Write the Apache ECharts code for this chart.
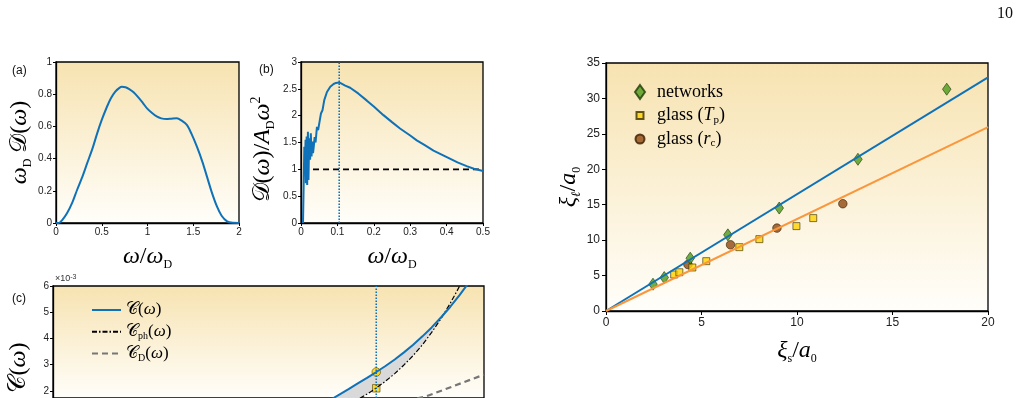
<!DOCTYPE html>
<html>
<head>
<meta charset="utf-8">
<script src="https://cdn.jsdelivr.net/npm/echarts@6/dist/echarts.min.js"></script>
<style>
  html, body { margin: 0; padding: 0; background: #fff; }
  #chart { width: 1023px; height: 398px; }
</style>
</head>
<body>
<div id="chart"></div>
<script>
/* (a) 态密度 */
var aOmega = [0, 0.03, 0.07, 0.12, 0.18, 0.23, 0.29, 0.34, 0.40, 0.45, 0.50, 0.557, 0.60, 0.648, 0.69,
  0.72, 0.76, 0.80, 0.848, 0.90, 0.95, 0.995, 1.05, 1.10, 1.15, 1.21, 1.26, 1.32, 1.37, 1.43,
  1.48, 1.54, 1.60, 1.65, 1.70, 1.76, 1.81, 1.87, 1.93, 2.0];
var aDos = [0, 0, 0.02, 0.06, 0.13, 0.205, 0.29, 0.37, 0.465, 0.557, 0.64, 0.722, 0.775, 0.816, 0.838,
  0.846, 0.843, 0.832, 0.812, 0.78, 0.745, 0.712, 0.683, 0.662, 0.65, 0.646, 0.648, 0.65, 0.637, 0.609,
  0.555, 0.474, 0.38, 0.288, 0.195, 0.101, 0.045, 0.01, 0.001, 0];

/* (b) 约化态密度 D/A_D w^2 */
var bOmega = [0.0055, 0.0091, 0.0105, 0.0125, 0.0135, 0.0155, 0.017, 0.019, 0.0205, 0.0225, 0.025,
  0.027, 0.029, 0.031, 0.033, 0.035, 0.0375, 0.040, 0.0438, 0.047, 0.051, 0.0548, 0.059, 0.0639,
  0.0713, 0.0804, 0.0895, 0.0960, 0.1004, 0.105, 0.1096, 0.1215, 0.135, 0.158, 0.181, 0.2, 0.2265,
  0.25, 0.272, 0.3, 0.318, 0.34, 0.364, 0.385, 0.409, 0.43, 0.455, 0.475, 0.5];
var bReduced = [0, 1.42, 0.93, 1.55, 0.74, 1.61, 0.71, 1.70, 0.80, 1.58, 1.18, 1.67, 1.24, 1.52, 1.30,
  1.42, 1.60, 1.50, 1.79, 1.73, 1.89, 2.04, 2.10, 2.29, 2.44, 2.54, 2.59, 2.61, 2.61, 2.62, 2.61,
  2.56, 2.52, 2.41, 2.28, 2.17, 2.01, 1.88, 1.76, 1.63, 1.54, 1.45, 1.35, 1.28, 1.20, 1.13, 1.06,
  1.01, 0.97];
var bDebyeX = [0.033, 0.5];
var bDebyeY = [1, 1];
var peakOmega = 0.105;

/* (c) C(w), C_ph(w), C_D(w), 单位 1e-3(下半部分在画面外) */
var cOmega = [0.084, 0.087, 0.090, 0.093, 0.096, 0.099, 0.102, 0.105, 0.108, 0.111, 0.114, 0.117,
  0.120, 0.123, 0.126, 0.129, 0.132, 0.135, 0.138];
var cTotal = [1.30, 1.47, 1.65, 1.86, 2.07, 2.29, 2.50, 2.72, 2.95, 3.20, 3.47, 3.76, 4.08, 4.42,
  4.80, 5.20, 5.64, 6.12, 6.65];
var cPhonon = [0.94, 1.05, 1.18, 1.33, 1.49, 1.67, 1.88, 2.11, 2.37, 2.66, 2.99, 3.35, 3.76, 4.23,
  4.75, 5.33, 5.98, 6.72, 7.54];
var cDebyeOmega = [0.112, 0.1214, 0.13, 0.14];
var cDebye = [1.54, 1.80, 2.18, 2.62];
var cCircle = 2.72;
var cSquare = 2.10;
var cTicks = [2, 3, 4, 5, 6];

/* 右图 xi_l vs xi_s */
var netXs = [2.46, 3.05, 4.41, 6.38, 9.07, 13.19, 17.84];
var netXl = [3.78, 4.72, 7.45, 10.75, 14.53, 21.41, 31.3];
var tpXs = [3.57, 3.84, 4.52, 5.25, 6.98, 8.03, 9.97, 10.85];
var tpXl = [5.15, 5.47, 6.14, 7.03, 9.01, 10.14, 11.98, 13.11];
var rcXs = [4.29, 6.52, 8.95, 12.40];
var rcXl = [6.56, 9.34, 11.70, 15.14];
var fitXs = [0, 20];
var fitNet = [0, 32.96];
var fitGlass = [0, 25.94];

var BLUE = '#0f72b8', ORANGE = '#fa963c', GREEN = '#4c9a1a', BROWN = '#8e4810', YELLOW = '#ffd200';
var SERIF = 'Liberation Serif', SANS = 'Liberation Sans';

function pairs(xs, ys) { return xs.map(function (x, i) { return [x, ys[i]]; }); }
function bg() {
  return new echarts.graphic.LinearGradient(0, 0, 0, 1, [
    { offset: 0, color: '#f7e3b1' }, { offset: 1, color: '#fffefa' }]);
}

var math = {
  i: { fontFamily: SERIF, fontStyle: 'italic', fontSize: 24, lineHeight: 28, color: '#000' },
  n: { fontFamily: SERIF, fontSize: 24, lineHeight: 28, color: '#000' },
  c: { fontFamily: SERIF, fontSize: 24, lineHeight: 28, color: '#000' },
  sub: { fontFamily: SERIF, fontSize: 12, lineHeight: 12, verticalAlign: 'bottom', color: '#000' },
  isub: { fontFamily: SERIF, fontStyle: 'italic', fontSize: 13, lineHeight: 12, verticalAlign: 'bottom', color: '#000' },
  sup: { fontFamily: SERIF, fontSize: 14, lineHeight: 14, verticalAlign: 'top', color: '#000' }
};

function axis(grid, min, max, interval, fs, extra) {
  var o = {
    type: 'value', gridIndex: grid, min: min, max: max, interval: interval,
    axisLine: { show: true, onZero: false, lineStyle: { color: '#000', width: 1.3 } },
    axisTick: { show: true, length: fs > 11 ? 4 : 3, lineStyle: { color: '#000', width: 1 } },
    axisLabel: { fontFamily: SANS, fontSize: fs, color: '#222', margin: fs > 11 ? 6 : 4 },
    splitLine: { show: false },
    nameLocation: 'middle',
    nameTextStyle: { rich: math }
  };
  for (var k in extra) o[k] = extra[k];
  return o;
}

var legendText = {
  C: '{c|𝒞}{n|(}{i|ω}{n|)}',
  Cph: '{c|𝒞}{s|ph}{n|(}{i|ω}{n|)}',
  CD: '{c|𝒞}{s|D}{n|(}{i|ω}{n|)}',
  networks: '{n|networks}',
  glassT: '{n|glass (}{i|T}{s|p}{n|)}',
  glassR: '{n|glass (}{i|r}{s|c}{n|)}'
};
var legRichC = {
  i: { fontFamily: SERIF, fontStyle: 'italic', fontSize: 17, lineHeight: 20, color: '#000' },
  n: { fontFamily: SERIF, fontSize: 17, lineHeight: 20, color: '#000' },
  c: { fontFamily: SERIF, fontSize: 17, lineHeight: 20, color: '#000' },
  s: { fontFamily: SERIF, fontSize: 10, lineHeight: 10, verticalAlign: 'bottom', color: '#000' }
};
var legRichD = {
  i: { fontFamily: SERIF, fontStyle: 'italic', fontSize: 18, lineHeight: 20, color: '#000' },
  n: { fontFamily: SERIF, fontSize: 18, lineHeight: 20, color: '#000' },
  s: { fontFamily: SERIF, fontSize: 11, lineHeight: 10, verticalAlign: 'bottom', color: '#000' }
};

// C 与 C_ph 之间的灰色区域(到两线交点为止)
function bandPolygon(params, api) {
  var upper = [], lower = [];
  for (var i = 0; i < cOmega.length; i++) {
    var d = cTotal[i] - cPhonon[i];
    if (d >= 0) {
      upper.push(api.coord([cOmega[i], cTotal[i]]));
      lower.push(api.coord([cOmega[i], cPhonon[i]]));
    } else {
      var dp = cTotal[i - 1] - cPhonon[i - 1];
      var t = dp / (dp - d);
      var x = cOmega[i - 1] + t * (cOmega[i] - cOmega[i - 1]);
      var y = cTotal[i - 1] + t * (cTotal[i] - cTotal[i - 1]);
      upper.push(api.coord([x, y]));
      break;
    }
  }
  return {
    type: 'polygon',
    shape: { points: upper.concat(lower.reverse()) },
    style: { fill: '#d9d9d9' }
  };
}

var chart = echarts.init(document.getElementById('chart'));

var gridStyle = { show: true, borderColor: '#000', borderWidth: 1.3 };
var option = {
  animation: false,
  backgroundColor: '#fff',
  grid: [
    Object.assign({ left: 56, top: 62, width: 183, height: 161, backgroundColor: bg() }, gridStyle),
    Object.assign({ left: 301, top: 62, width: 182, height: 161, backgroundColor: bg() }, gridStyle),
    Object.assign({ left: 53, top: 286, width: 431, height: 114, backgroundColor: bg() }, gridStyle),
    Object.assign({ left: 606, top: 63, width: 382, height: 248, backgroundColor: bg() }, gridStyle)
  ],
  xAxis: [
    axis(0, 0, 2, 0.5, 10, { name: '{i|ω}{n|/}{i|ω}{sub|D}', nameGap: 20 }),
    axis(1, 0, 0.5, 0.1, 10, { name: '{i|ω}{n|/}{i|ω}{sub|D}', nameGap: 20 }),
    {
      type: 'value', gridIndex: 2, min: 0, max: 0.14,
      axisLine: { show: false }, axisTick: { show: false }, axisLabel: { show: false }, splitLine: { show: false }
    },
    axis(3, 0, 20, 5, 12, { name: '{i|ξ}{sub|s}{n|/}{i|a}{sub|0}', nameGap: 26 })
  ],
  yAxis: [
    axis(0, 0, 1, 0.2, 10, { name: '{i|ω}{sub|D}{c| 𝒟}{n|(}{i|ω}{n|)}', nameGap: 22 }),
    axis(1, 0, 3, 0.5, 10, { name: '{c|𝒟}{n|(}{i|ω}{n|)/}{i|A}{sub|D}{i|ω}{sup|2}', nameGap: 24,
      nameTextStyle: { rich: math, padding: [0, 14, 0, 0] } }),
    {
      type: 'value', gridIndex: 2, min: 1.73, max: 6,
      axisLine: { show: true, onZero: false, lineStyle: { color: '#000', width: 1.3 } },
      axisTick: { show: true, length: 3, customValues: cTicks, lineStyle: { color: '#000', width: 1 } },
      axisLabel: { fontFamily: SANS, fontSize: 10, color: '#222', margin: 4, customValues: cTicks },
      splitLine: { show: false },
      name: '{c|𝒞}{n|(}{i|ω}{n|)}', nameLocation: 'middle', nameGap: 20,
      nameTextStyle: { rich: math, padding: [0, 52, 0, 0] }
    },
    axis(3, 0, 35, 5, 12, { name: '{i|ξ}{isub|ℓ}{n|/}{i|a}{sub|0}', nameGap: 20 })
  ],
  legend: [
    {
      data: ['C', 'Cph', 'CD'], orient: 'vertical', left: 91, top: 300, padding: 0,
      itemWidth: 29, itemHeight: 12, itemGap: 1.7,
      lineStyle: { width: 2 }, itemStyle: { opacity: 0 },
      formatter: function (n) { return legendText[n]; },
      textStyle: { rich: legRichC, fontSize: 17, lineHeight: 20 }
    },
    {
      data: [
        { name: 'networks', icon: 'path://M5,0L10,7L5,14L0,7Z' },
        { name: 'glassT', icon: 'path://M0,0M14,14M3.5,3.5h7v7h-7z' },
        { name: 'glassR', icon: 'path://M0,0M14,14M11.5,7A4.5,4.5,0,1,1,2.5,7A4.5,4.5,0,1,1,11.5,7Z' }
      ],
      orient: 'vertical', left: 632, top: 82, padding: 0,
      itemWidth: 24, itemHeight: 14, itemGap: 3.5,
      formatter: function (n) { return legendText[n]; },
      textStyle: { rich: legRichD, fontSize: 18, lineHeight: 20, padding: [0, 0, 0, 0] }
    }
  ],
  graphic: [
    { type: 'text', left: 12, top: 65, style: { text: '(a)', font: '12px "Liberation Sans"', fill: '#111' } },
    { type: 'text', left: 259, top: 64, style: { text: '(b)', font: '12px "Liberation Sans"', fill: '#111' } },
    { type: 'text', left: 12, top: 293, style: { text: '(c)', font: '12px "Liberation Sans"', fill: '#111' } },
    { type: 'text', left: 55, top: 274, style: { text: '×10{s|-3}', font: '9px "Liberation Sans"', fill: '#333',
      rich: { s: { fontSize: 7, verticalAlign: 'top', lineHeight: 8, fill: '#333' } } } },
    { type: 'text', right: 10, top: 6, style: { text: '10', font: '16px "Liberation Serif"', fill: '#111' } }
  ],
  series: [
    // (a)
    { type: 'line', xAxisIndex: 0, yAxisIndex: 0, data: pairs(aOmega, aDos), symbol: 'none', smooth: 0.3,
      lineStyle: { color: BLUE, width: 2 } },
    // (b)
    { type: 'line', xAxisIndex: 1, yAxisIndex: 1, data: pairs(bDebyeX, bDebyeY), symbol: 'none',
      lineStyle: { color: '#000', width: 1.8, type: [6, 4] } },
    { type: 'line', xAxisIndex: 1, yAxisIndex: 1, data: [[peakOmega, 0], [peakOmega, 3]], symbol: 'none',
      lineStyle: { color: BLUE, width: 1.6, type: [1.5, 1.5] } },
    { type: 'line', xAxisIndex: 1, yAxisIndex: 1, data: pairs(bOmega, bReduced), symbol: 'none',
      lineStyle: { color: BLUE, width: 2 } },
    // (c)
    { type: 'custom', xAxisIndex: 2, yAxisIndex: 2, data: [0], clip: true, silent: true, z: 1,
      renderItem: bandPolygon },
    { type: 'line', name: 'CD', xAxisIndex: 2, yAxisIndex: 2, data: pairs(cDebyeOmega, cDebye), symbol: 'none',
      lineStyle: { color: '#767676', width: 2.2, type: [6, 4] }, itemStyle: { color: '#767676' } },
    { type: 'line', name: 'Cph', xAxisIndex: 2, yAxisIndex: 2, data: pairs(cOmega, cPhonon), symbol: 'none',
      lineStyle: { color: '#000', width: 1.2, type: [5, 2, 1.5, 2] }, itemStyle: { color: '#000' } },
    { type: 'line', name: 'C', xAxisIndex: 2, yAxisIndex: 2, data: pairs(cOmega, cTotal), symbol: 'none',
      lineStyle: { color: BLUE, width: 2 }, itemStyle: { color: BLUE } },
    { type: 'line', xAxisIndex: 2, yAxisIndex: 2, data: [[peakOmega, 1.73], [peakOmega, 6]], symbol: 'none',
      lineStyle: { color: BLUE, width: 1.6, type: [1.5, 1.5] } },
    { type: 'scatter', xAxisIndex: 2, yAxisIndex: 2, data: [[peakOmega, cCircle]], symbol: 'circle', symbolSize: 8.5,
      itemStyle: { color: YELLOW, borderColor: '#5a4a00', borderWidth: 0.8 } },
    { type: 'scatter', xAxisIndex: 2, yAxisIndex: 2, data: [[peakOmega, cSquare]], symbol: 'rect', symbolSize: 7.5,
      itemStyle: { color: YELLOW, borderColor: '#5a4a00', borderWidth: 0.8 } },
    // 右图
    { type: 'line', xAxisIndex: 3, yAxisIndex: 3, data: pairs(fitXs, fitNet), symbol: 'none',
      lineStyle: { color: BLUE, width: 2 } },
    { type: 'line', xAxisIndex: 3, yAxisIndex: 3, data: pairs(fitXs, fitGlass), symbol: 'none',
      lineStyle: { color: ORANGE, width: 2 } },
    { type: 'scatter', name: 'glassR', xAxisIndex: 3, yAxisIndex: 3, data: pairs(rcXs, rcXl),
      symbol: 'circle', symbolSize: 8.5, itemStyle: { color: BROWN, borderColor: '#3a1c00', borderWidth: 0.8 } },
    { type: 'scatter', name: 'glassT', xAxisIndex: 3, yAxisIndex: 3, data: pairs(tpXs, tpXl),
      symbol: 'rect', symbolSize: 7, itemStyle: { color: YELLOW, borderColor: '#3a3000', borderWidth: 0.8 } },
    { type: 'scatter', name: 'networks', xAxisIndex: 3, yAxisIndex: 3, data: pairs(netXs, netXl),
      symbol: 'diamond', symbolSize: [8.5, 12], itemStyle: { color: GREEN, borderColor: '#1d3a05', borderWidth: 0.8 } }
  ]
};
chart.setOption(option);
</script>
</body>
</html>
